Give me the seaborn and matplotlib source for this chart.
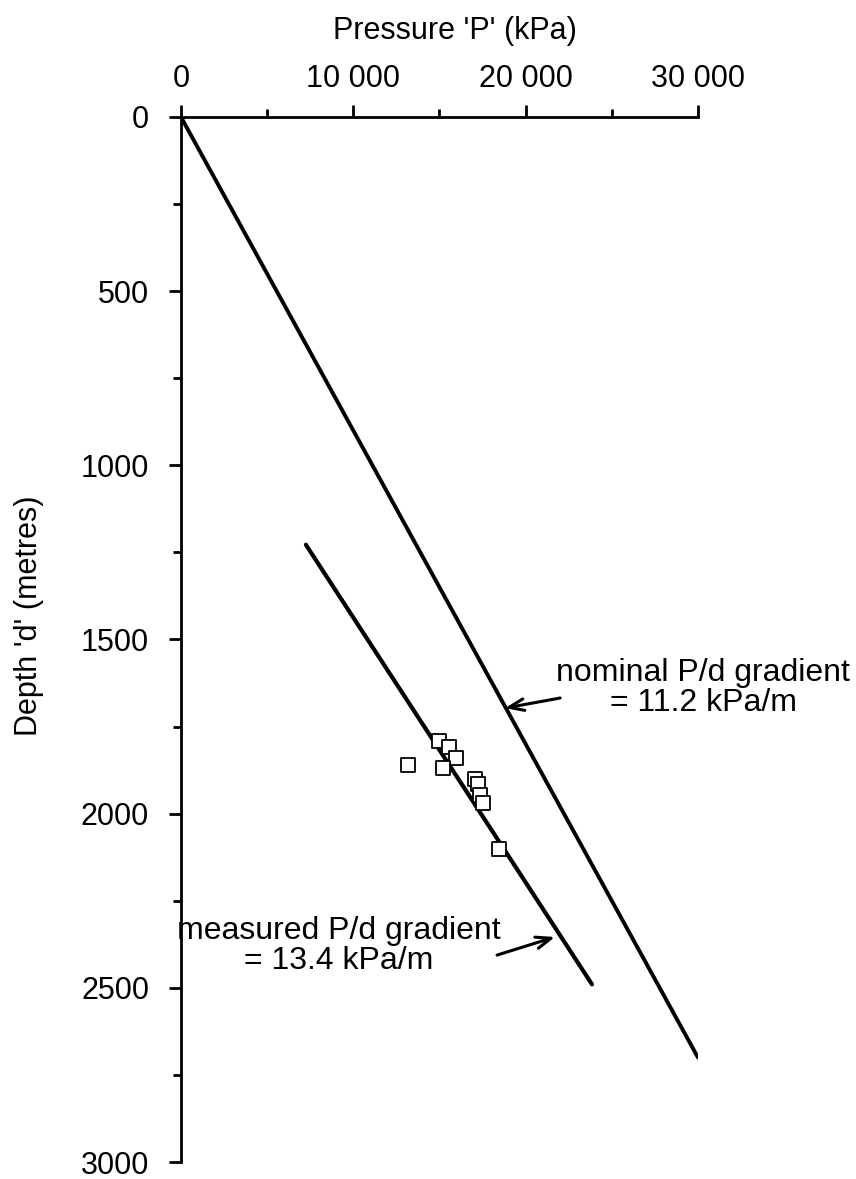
import matplotlib
matplotlib.use("Agg")
import matplotlib.pyplot as plt
import seaborn as sns
import pandas as pd
from matplotlib.ticker import MultipleLocator, FixedLocator

# ---- data ----
nominal_P = [0, 30000]
nominal_d = [0, 2700]
measured_P = [7250, 23850]
measured_d = [1228, 2490]
obs_P = [15000, 15550, 15950, 13150, 15200, 17050, 17230, 17350, 17520, 18450]
obs_d = [1790, 1810, 1840, 1860, 1870, 1900, 1915, 1945, 1970, 2100]
x_ticks = [0, 10000, 20000, 30000]
x_ticklabels = ["0", "10 000", "20 000", "30 000"]
y_ticks = [0, 500, 1000, 1500, 2000, 2500, 3000]

sns.set_theme(style="ticks")
plt.rcParams["font.family"] = ["Liberation Sans", "DejaVu Sans"]

fig = plt.figure(figsize=(8.56, 11.79), dpi=100)
ax = fig.add_axes([0.2114, 0.0144, 0.604, 0.8864])

nom = pd.DataFrame({"P": nominal_P, "d": nominal_d})
mea = pd.DataFrame({"P": measured_P, "d": measured_d})
obs = pd.DataFrame({"P": obs_P, "d": obs_d})

sns.lineplot(data=nom, x="P", y="d", color="black", lw=2.8, ax=ax, sort=False)
sns.lineplot(data=mea, x="P", y="d", color="black", lw=3.0, ax=ax, sort=False)
sns.scatterplot(data=obs, x="P", y="d", marker="s", s=90, facecolor="white",
                edgecolor="black", linewidth=1.3, ax=ax, zorder=3)

ax.set_xlim(0, 30000)
ax.set_ylim(3000, 0)

for s in ["right", "bottom"]:
    ax.spines[s].set_visible(False)
for s in ["top", "left"]:
    ax.spines[s].set_linewidth(2.0)
    ax.spines[s].set_color("black")

ax.xaxis.tick_top()
ax.xaxis.set_label_position("top")
ax.xaxis.set_major_locator(FixedLocator(x_ticks))
ax.set_xticklabels(x_ticklabels)
ax.xaxis.set_minor_locator(MultipleLocator(5000))
ax.yaxis.set_major_locator(FixedLocator(y_ticks))
ax.yaxis.set_minor_locator(MultipleLocator(250))

ax.tick_params(axis="both", which="major", direction="out", length=9, width=2.0,
               color="black", labelsize=22, labelcolor="black")
ax.tick_params(axis="both", which="minor", direction="out", length=6, width=2.0,
               color="black")
ax.tick_params(axis="x", which="major", pad=7.5)
ax.tick_params(axis="y", which="major", pad=14)

ax.set_xlabel("Pressure 'P' (kPa)", fontsize=22, color="black")
ax.set_ylabel("Depth 'd' (metres)", fontsize=22, color="black")
ax.xaxis.set_label_coords(0.53, 1.075)
ax.yaxis.set_label_coords(-0.265, 0.523)

arrow_style = dict(arrowstyle="->,head_length=0.9,head_width=0.35",
                   lw=2.2, color="black", shrinkA=0, shrinkB=0)

ax.text(30300, 1640, "nominal P/d gradient\n= 11.2 kPa/m", ha="center",
        va="center", fontsize=23, linespacing=1.0, color="black", clip_on=False)
ax.annotate("", xy=(18800, 1697), xytext=(22000, 1668), arrowprops=arrow_style)

ax.text(9170, 2380, "measured P/d gradient\n= 13.4 kPa/m", ha="center",
        va="center", fontsize=23, linespacing=1.0, color="black", clip_on=False)
ax.annotate("", xy=(21700, 2354), xytext=(18340, 2406), arrowprops=arrow_style)

fig.savefig("out.png", dpi=100)
